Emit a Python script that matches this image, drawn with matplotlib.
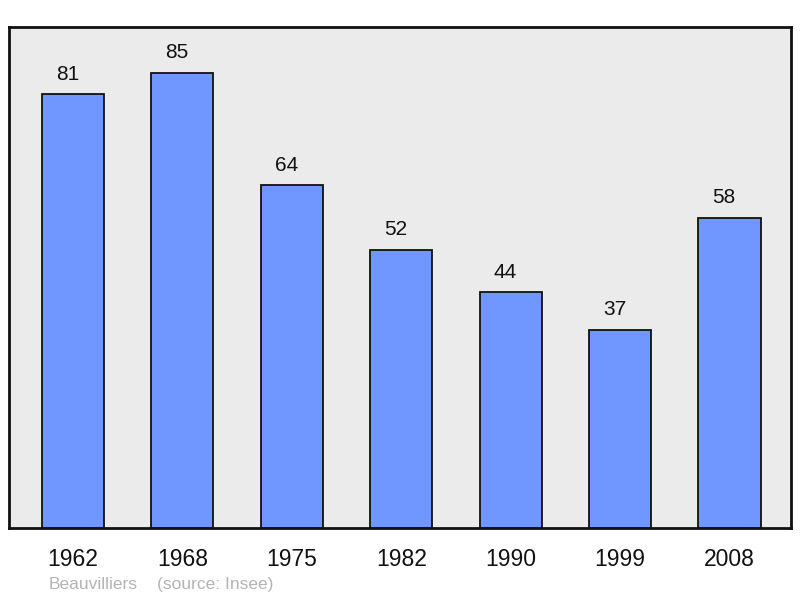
import matplotlib
matplotlib.use("Agg")
import matplotlib.pyplot as plt

years = ["1962", "1968", "1975", "1982", "1990", "1999", "2008"]
population = [81, 85, 64, 52, 44, 37, 58]
commune = "Beauvilliers"
source = "(source: Insee)"

plt.rcParams['font.family'] = ['Liberation Sans', 'DejaVu Sans']

W, H = 800, 598
fig = plt.figure(figsize=(W / 100, H / 100), dpi=100)
ax = fig.add_axes([9 / W, (H - 528) / H, (791 - 9) / W, (528 - 27) / H])
ax.set_facecolor('#ebebeb')

x = list(range(len(years)))
ax.bar(x, population, width=0.567, color='#7096ff', edgecolor='#111111', linewidth=1.3, zorder=2)
for xi, v in zip(x, population):
    ax.annotate(str(v), (xi, v), xytext=(-3.8, 10.5), textcoords='offset points',
                ha='center', va='baseline', fontsize=15, color='#111111')

ax.set_xlim(-0.585, 6.562)
ax.set_ylim(0, 93.6)
ax.set_xticks(x)
ax.set_xticklabels(years, fontsize=16.5, color='#111111')
ax.tick_params(axis='x', length=0, pad=14.5)
ax.set_yticks([])
for s in ax.spines.values():
    s.set_linewidth(2)
    s.set_color('#111111')

fig.text(49 / W, (H - 589) / H, commune, fontsize=12.5, color='#b4b4b4', va='baseline')
fig.text(157 / W, (H - 589) / H, source, fontsize=12.5, color='#b4b4b4', va='baseline')

fig.savefig('out.png', dpi=100)
